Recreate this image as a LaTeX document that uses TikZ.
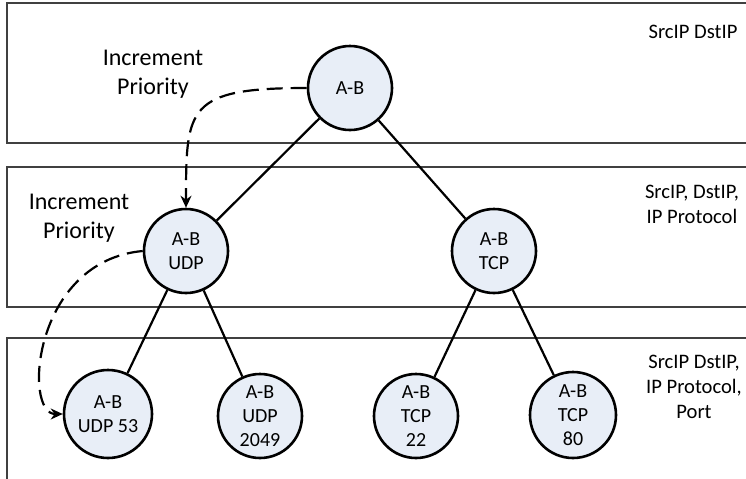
\documentclass[tikz,border=0pt]{standalone}
\usepackage{fontspec}
\setmainfont{Carlito}
\usetikzlibrary{arrows.meta}
\definecolor{flowblue}{RGB}{232,238,247}

\begin{document}
\begin{tikzpicture}[x=0.5pt, y=-0.5pt,
        flow/.style={circle, draw, line width=1.3pt, fill=flowblue, minimum size=42pt, inner sep=0pt, align=center, font=\fontsize{10}{12}\selectfont},
        band/.style={draw=black!75, line width=0.7pt},
        note/.style={align=center, font=\fontsize{12}{14.5}\selectfont},
        keys/.style={align=center, font=\fontsize{10.3}{12.5}\selectfont},
        link/.style={line width=1.1pt},
        arr/.style={-{Stealth[length=6pt, width=5.5pt]}, line width=1.1pt, dash pattern=on 8pt off 4pt}
        ]
        \path[use as bounding box, clip] (0,0) rectangle (746,478);
        % match levels
        \draw[band] (7,3) rectangle (760,143);
        \draw[band] (7,167) rectangle (760,307);
        \draw[band] (7,338) rectangle (760,500);
        \node[keys] (key1) at (693,32)  {SrcIP DstIP};
        \node[keys] (key2) at (692,204) {SrcIP, DstIP,\\IP Protocol};
        \node[keys] (key3) at (694,387) {SrcIP DstIP,\\IP Protocol,\\Port};
        \node[note] (inc1) at (153,74)  {Increment\\Priority};
        \node[note] (inc2) at (79,218)  {Increment\\Priority};
        % flow tree
        \node[flow] (root)  at (350,88)  {A-B};
        \node[flow] (udp)   at (186,251) {A-B\\UDP};
        \node[flow] (tcp)   at (494,251) {A-B\\TCP};
        \node[flow, minimum size=44pt] (udp53) at (108,414) {A-B\\UDP 53};
        \node[flow] (udp2049) at (260,416) {A-B\\UDP\\2049};
        \node[flow] (tcp22)   at (416,416) {A-B\\TCP\\22};
        \node[flow, minimum size=43pt] (tcp80) at (573,415) {A-B\\TCP\\80};
        \draw[link] (root) -- (udp);
        \draw[link] (root) -- (tcp);
        \draw[link] (udp) -- (udp53);
        \draw[link] (udp) -- (udp2049);
        \draw[link] (tcp) -- (tcp22);
        \draw[link] (tcp) -- (tcp80);
        \draw[arr] (root.west) .. controls +(-120,0) and +(0,-100) .. (udp.north);
        \draw[arr] (udp.west) .. controls +(-110,10) and +(-40,0) .. (udp53.west);
    \end{tikzpicture}
\end{document}
